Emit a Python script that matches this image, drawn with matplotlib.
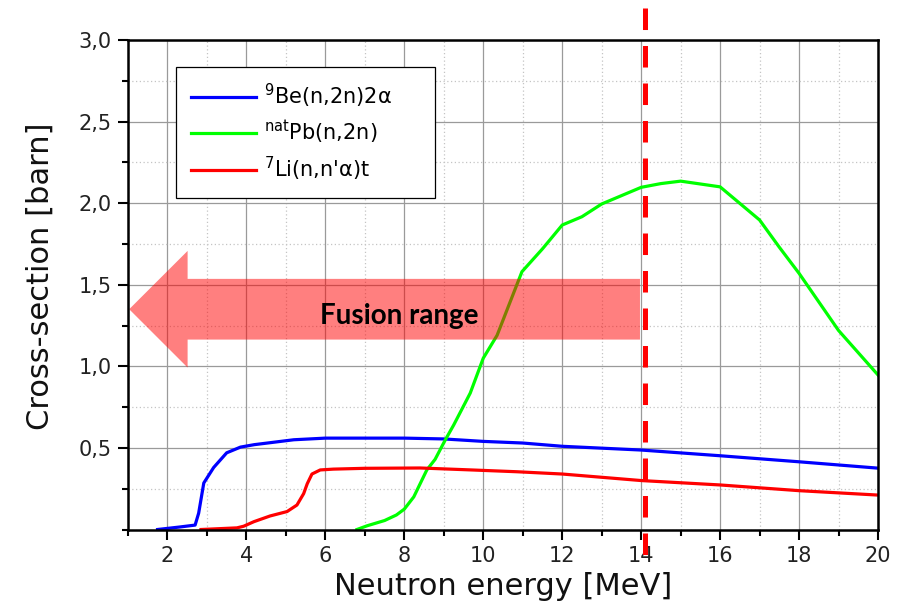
import matplotlib
matplotlib.use("Agg")
import matplotlib.pyplot as plt
from matplotlib.patches import FancyArrow
from matplotlib.ticker import FixedLocator, MultipleLocator, NullFormatter

# ---------------- data ----------------
be_energy = [1.75, 2.3, 2.7, 2.79, 2.92, 3.17, 3.5, 3.85, 4.2, 5.2, 6.0, 7.0, 8.0,
             9.0, 10.0, 11.0, 12.0, 14.0, 16.0, 18.0, 20.0]
be_xs = [0.0, 0.015, 0.027, 0.10, 0.285, 0.38, 0.47, 0.505, 0.52, 0.55, 0.56, 0.56, 0.56,
         0.555, 0.54, 0.53, 0.51, 0.487, 0.452, 0.415, 0.376]

pb_energy = [6.8, 7.06, 7.5, 7.8, 8.0, 8.24, 8.41, 8.57, 8.78, 9.04, 9.25, 9.67, 10.0,
             10.35, 10.98, 11.5, 12.0, 12.5, 13.0, 14.0, 14.5, 15.0, 16.0, 17.0, 17.5,
             18.0, 19.0, 20.0]
pb_xs = [0.0, 0.023, 0.055, 0.089, 0.125, 0.2, 0.285, 0.365, 0.43, 0.55, 0.64, 0.836, 1.05,
         1.19, 1.58, 1.72, 1.866, 1.917, 1.995, 2.097, 2.12, 2.135, 2.10, 1.897, 1.73,
         1.57, 1.22, 0.947]

li_energy = [2.85, 3.76, 3.93, 4.19, 4.6, 5.03, 5.28, 5.45, 5.54, 5.66, 5.87, 6.2, 7.0,
             8.4, 9.7, 10.85, 12.0, 14.0, 16.0, 18.0, 20.0]
li_xs = [0.0, 0.01, 0.02, 0.048, 0.083, 0.11, 0.15, 0.22, 0.28, 0.34, 0.365, 0.370, 0.375,
         0.377, 0.365, 0.354, 0.34, 0.30, 0.273, 0.238, 0.211]

series_labels = [r"$^{9}$Be(n,2n)2α", r"$^{\mathregular{nat}}$Pb(n,2n)", r"$^{7}$Li(n,n'α)t"]
series_colors = ["#0000ff", "#00ff00", "#ff0000"]

x_ticks = [2, 4, 6, 8, 10, 12, 14, 16, 18, 20]
x_tick_labels = ["2", "4", "6", "8", "10", "12", "14", "16", "18", "20"]
y_ticks = [0.5, 1.0, 1.5, 2.0, 2.5, 3.0]
y_tick_labels = ["0,5", "1,0", "1,5", "2,0", "2,5", "3,0"]

fusion_energy = 14.1          # dashed marker line
arrow_tail = 13.97            # fusion range arrow (tail -> tip)
arrow_tip = 1.03
arrow_level = 1.35
arrow_text = "Fusion range"

x_label = "Neutron energy [MeV]"
y_label = "Cross-section [barn]"

# ---------------- figure ----------------
fig = plt.figure(figsize=(9.02, 6.03), dpi=100)
fig.patch.set_facecolor("white")
ax = fig.add_axes([128 / 902, (603 - 529.5) / 603, 750 / 902, 489.5 / 603])
ax.set_facecolor("none")

ax.set_xlim(1, 20)
ax.set_ylim(0, 3.0)

ax.xaxis.set_major_locator(FixedLocator(x_ticks))
ax.set_xticklabels(x_tick_labels)
ax.xaxis.set_minor_locator(MultipleLocator(1))
ax.yaxis.set_major_locator(FixedLocator(y_ticks))
ax.set_yticklabels(y_tick_labels)
ax.yaxis.set_minor_locator(MultipleLocator(0.25))
ax.xaxis.set_minor_formatter(NullFormatter())
ax.yaxis.set_minor_formatter(NullFormatter())

ax.tick_params(axis="both", which="major", direction="out", length=7, width=1.5,
               color="black", labelsize=15, labelcolor="#222222", pad=5)
ax.tick_params(axis="both", which="minor", direction="out", length=4, width=1.5,
               color="black")
for lab in ax.get_xticklabels() + ax.get_yticklabels():
    lab.set_family("DejaVu Sans")

ax.grid(True, which="major", color="#9a9a9a", linewidth=0.9, zorder=0)
ax.grid(True, which="minor", color="#c4c4c4", linewidth=0.9, linestyle=(0, (1, 2)), zorder=0)
ax.set_axisbelow(True)

for side in ["left", "bottom", "top", "right"]:
    ax.spines[side].set_linewidth(1.8)
    ax.spines[side].set_color("black")
    ax.spines[side].set_zorder(5)

# curves
energies = [be_energy, pb_energy, li_energy]
values = [be_xs, pb_xs, li_xs]
for e, v, lab, c in zip(energies, values, series_labels, series_colors):
    ax.plot(e, v, color=c, linewidth=2.3, label=lab, zorder=3, solid_joinstyle="round")

# fusion range arrow
arrow = FancyArrow(arrow_tail, arrow_level, arrow_tip - arrow_tail, 0,
                   width=0.372, head_width=0.715, head_length=1.48,
                   length_includes_head=True, color="#ff0000", alpha=0.5,
                   linewidth=0, zorder=4)
ax.add_patch(arrow)
ax.text(7.87, 1.257, arrow_text, ha="center", va="baseline", fontsize=20,
        fontweight="bold", family="Lato", color="black", zorder=7)

# dashed 14 MeV line, extending past the frame
ax.plot([fusion_energy, fusion_energy], [3.196, -0.193], color="#ff0000",
        linewidth=3.6, dashes=(15.5 / 3.6, 11.5 / 3.6), clip_on=False, zorder=6,
        solid_capstyle="butt", dash_capstyle="butt")

# legend
leg = ax.legend(loc="upper left", bbox_to_anchor=(0.064, 0.687, 0.345, 0.258),
                mode="expand", borderaxespad=0, frameon=True, fancybox=False,
                framealpha=1, edgecolor="black", borderpad=0.7, labelspacing=0.42,
                handlelength=3.15, handletextpad=0.35,
                prop={"family": "DejaVu Sans", "size": 15})
leg.get_frame().set_linewidth(0.9)
for line in leg.get_lines():
    line.set_linewidth(2.3)
leg.set_zorder(8)

# axis labels
ax.set_xlabel(x_label, fontsize=22, family="DejaVu Sans", color="#111111")
ax.xaxis.set_label_coords(0.5, -0.1338)
ax.xaxis.label.set_va("baseline")
ax.set_ylabel(y_label, fontsize=22, family="DejaVu Sans", color="#111111")
ax.yaxis.set_label_coords(-0.117, 0.517)
ax.yaxis.label.set_va("center")

fig.savefig("out.png", dpi=100, facecolor="white")
